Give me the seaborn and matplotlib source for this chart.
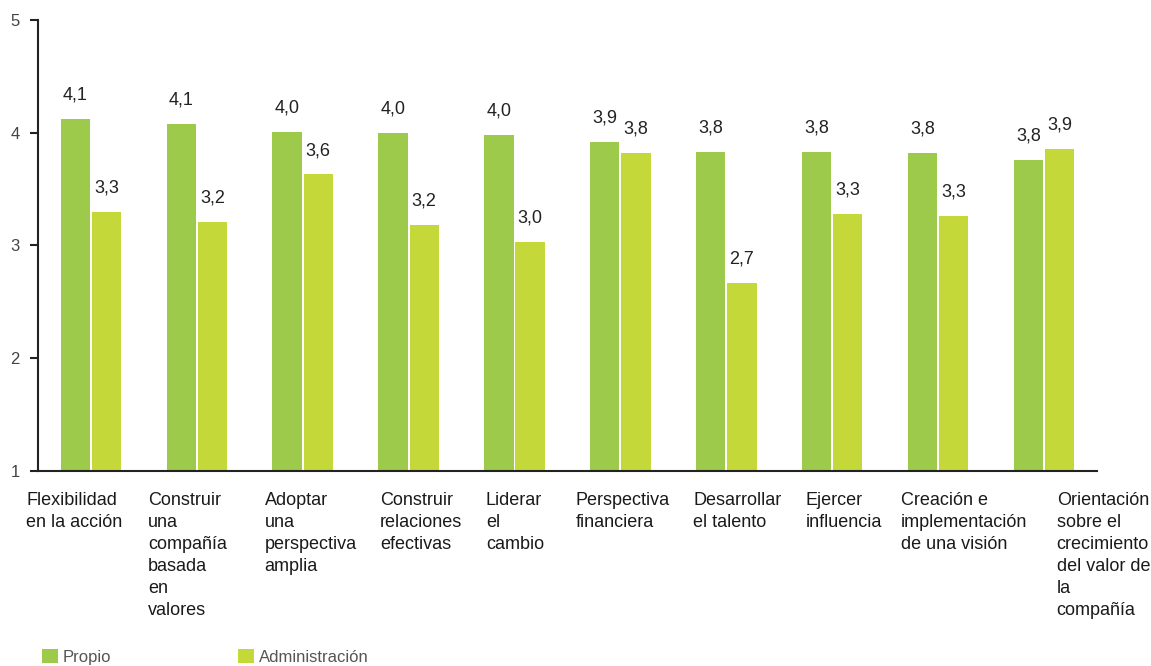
import matplotlib
matplotlib.use("Agg")
import matplotlib.pyplot as plt
import seaborn as sns
import pandas as pd

# Competencias evaluadas (etiquetas del eje X, ya divididas en líneas)
categorias = [
    "Flexibilidad\nen la acción",
    "Construir\nuna\ncompañía\nbasada\nen\nvalores",
    "Adoptar\nuna\nperspectiva\namplia",
    "Construir\nrelaciones\nefectivas",
    "Liderar\nel\ncambio",
    "Perspectiva\nfinanciera",
    "Desarrollar\nel talento",
    "Ejercer\ninfluencia",
    "Creación e\nimplementación\nde una visión",
    "Orientación\nsobre el\ncrecimiento\ndel valor de\nla\ncompañía",
]
series = ["Propio", "Administración"]
propio = [4.12, 4.08, 4.01, 4.00, 3.98, 3.92, 3.83, 3.83, 3.82, 3.76]
administracion = [3.30, 3.21, 3.63, 3.18, 3.03, 3.82, 2.67, 3.28, 3.26, 3.86]
y_ticks = [1, 2, 3, 4, 5]

# Desplazamiento horizontal (en unidades de categoría) del borde izquierdo de cada rótulo
desplaz_rotulo = [-0.61, -0.46, -0.36, -0.27, -0.27, -0.42, -0.31, -0.25, -0.35, 0.12]

colores = {"Propio": "#9DCA4A", "Administración": "#C4D83A"}

df = pd.DataFrame({
    "categoria": list(range(len(categorias))) * 2,
    "serie": [series[0]] * len(propio) + [series[1]] * len(administracion),
    "valor": propio + administracion,
})

sns.set_style("white")
plt.rcParams["font.family"] = ["Liberation Sans", "DejaVu Sans"]

fig = plt.figure(figsize=(11.51, 6.66), dpi=100)
ax = fig.add_axes([0.033, 0.2928, 0.920, 0.6772])

sns.barplot(data=df, x="categoria", y="valor", hue="serie", palette=colores,
            width=0.59, gap=0.06, saturation=1, ax=ax, linewidth=0)

for cont in ax.containers:
    ax.bar_label(cont, fmt=lambda v: f"{v:.1f}".replace(".", ","),
                 padding=11, fontsize=13, color="#222222")

ax.set_ylim(1, 5)
ax.set_xlim(-0.5, len(categorias) - 0.5)
ax.set_yticks(y_ticks)
ax.set_yticklabels([str(t) for t in y_ticks], fontsize=12, color="#444444")
ax.set_xticks([])
ax.set_xlabel("")
ax.set_ylabel("")

for side in ("top", "right"):
    ax.spines[side].set_visible(False)
for side in ("left", "bottom"):
    ax.spines[side].set_color("#222222")
    ax.spines[side].set_linewidth(1.5)
ax.tick_params(axis="y", length=6, width=1.5, color="#222222", direction="out", pad=7, left=True)

# Rótulos de categoría alineados a la izquierda bajo cada grupo
for i, (txt, dx) in enumerate(zip(categorias, desplaz_rotulo)):
    ax.annotate(txt, xy=(i + dx, 0), xycoords=("data", "axes fraction"),
                xytext=(0, -21), textcoords="offset pixels",
                ha="left", va="top", fontsize=13, color="#1a1a1a",
                linespacing=1.38, annotation_clip=False)

handles, labels = ax.get_legend_handles_labels()
if ax.get_legend() is not None:
    ax.get_legend().remove()
fig.legend(handles, labels, loc="center left", bbox_to_anchor=(0.0365, 0.014),
           ncol=2, frameon=False, fontsize=12, labelcolor="#555555",
           handlelength=0.95, handleheight=0.95, handletextpad=0.3,
           columnspacing=7.6, borderpad=0, borderaxespad=0)

fig.savefig("out.png", dpi=100)
